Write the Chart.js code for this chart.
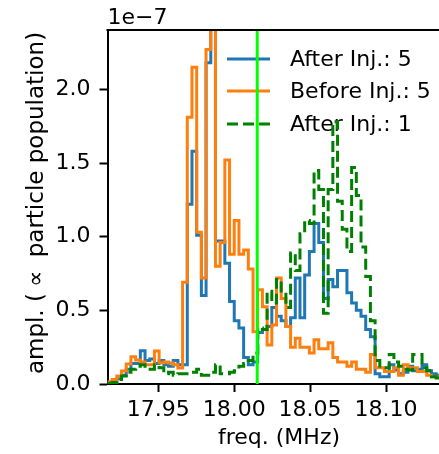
<!DOCTYPE html>
<html>
<head>
<meta charset="utf-8">
<title>ampl vs freq</title>
<script src="https://cdn.jsdelivr.net/npm/chart.js"></script>
<style>
  body { margin: 0; background: #fff; overflow: hidden; }
</style>
</head>
<body>
<canvas id="myChart" width="439" height="454"></canvas>
<script>
// frequency bins (MHz): first left edge and bin width
const binStart = 17.91658;
const binWidth = 0.003092;

// amplitudes per bin, in units of 1e-7
const after5 = [0.01, 0.02, 0.035, 0.06, 0.1, 0.14, 0.14, 0.225, 0.16, 0.17,
  0.14, 0.16, 0.13, 0.12, 0.16, 0.13, 0.13, 1.22, 1.58, 1.01,
  0.60, 2.18, 2.6, 0.97, 0.97, 0.82, 0.56, 0.43, 0.38, 0.18,
  0.13, 0.15, 0.35, 0.37, 0.39, 0.52, 0.46, 0.43, 0.39, 0.45,
  0.72, 0.45, 0.74, 0.90, 1.09, 0.96, 0.58, 0.71, 0.66, 0.77,
  0.77, 0.62, 0.55, 0.50, 0.46, 0.37, 0.32, 0.07, 0.05, 0.05,
  0.13, 0.095, 0.07, 0.08, 0.12, 0.09, 0.10, 0.13, 0.09, 0.07, 0.06];

const before5 = [0.016, 0.03, 0.054, 0.088, 0.136, 0.185, 0.163, 0.15, 0.13, 0.13,
  0.224, 0.145, 0.15, 0.142, 0.13, 0.108, 0.69, 1.81, 2.15, 1.03,
  0.72, 2.27, 2.6, 0.80, 0.96, 1.52, 0.88, 1.11, 0.88, 0.91,
  0.78, 0.355, 0.64, 0.525, 0.265, 0.40, 0.72, 0.58, 0.39, 0.25,
  0.31, 0.25, 0.25, 0.21, 0.30, 0.24, 0.24, 0.28, 0.18, 0.15,
  0.15, 0.12, 0.15, 0.10, 0.10, 0.08, 0.20, 0.11, 0.11, 0.085,
  0.085, 0.11, 0.06, 0.13, 0.11, 0.11, 0.085, 0.085, 0.06, 0.05, 0.05];

const after1 = [0.005, 0.01, 0.03, 0.055, 0.08, 0.1, 0.12, 0.13, 0.1, 0.1,
  0.13, 0.11, 0.07, 0.08, 0.06, 0.07, 0.07, 0.07, 0.08, 0.1,
  0.06, 0.06, 0.08, 0.13, 0.07, 0.07, 0.08, 0.09, 0.12, 0.14,
  0.16, 0.21, 0.38, 0.37, 0.63, 0.55, 0.71, 0.62, 0.52, 0.89,
  0.77, 1.02, 1.11, 1.09, 1.45, 1.32, 0.48, 1.32, 1.78, 1.24,
  1.05, 0.90, 1.47, 1.28, 0.93, 0.73, 0.43, 0.16, 0.11, 0.11,
  0.2, 0.15, 0.12, 0.1, 0.095, 0.2, 0.2, 0.11, 0.09, 0.05, 0.04];

const labels = ['After Inj.: 5', 'Before Inj.: 5', 'After Inj.: 1'];
const colors = ['#1f77b4', '#ff7f0e', 'green'];

// marker line (MHz)
const markerFreq = 18.0152;

// axes
const xMin = 17.9166;
const xMax = 18.1349;
const yMax = 2.403;
const xTicks = [17.95, 18.00, 18.05, 18.10];
const yTicks = [0.0, 0.5, 1.0, 1.5, 2.0];

// turn bin values into step points (left edges + final right edge)
function toSteps(values) {
  let pts = [];
  for (let i = 0; i < values.length; i++) {
    pts.push({x: binStart + i * binWidth, y: values[i]});
  }
  pts.push({x: binStart + values.length * binWidth, y: values[values.length - 1]});
  return pts;
}

Chart.defaults.font.family = 'DejaVu Sans';
Chart.defaults.font.size = 22;
Chart.defaults.color = '#000';

// legend, spines and texts drawn by hand
const extras = {
  id: 'extras',
  beforeDatasetsDraw(chart) {
    const ctx = chart.ctx;
    ctx.save();
    const rows = [59, 91, 124];
    for (let i = 0; i < 3; i++) {
      ctx.strokeStyle = colors[i];
      ctx.lineWidth = 3;
      ctx.setLineDash(i == 2 ? [11, 5] : []);
      ctx.beginPath();
      ctx.moveTo(227, rows[i]);
      ctx.lineTo(270, rows[i]);
      ctx.stroke();
      ctx.fillStyle = '#000';
      ctx.font = '22px "DejaVu Sans"';
      ctx.textBaseline = 'middle';
      ctx.fillText(labels[i], 290, rows[i] + 1);
    }
    ctx.restore();
  },
  afterDraw(chart) {
    const ctx = chart.ctx;
    const a = chart.chartArea;
    ctx.save();
    // top spine
    ctx.strokeStyle = '#000';
    ctx.lineWidth = 2;
    ctx.beginPath();
    ctx.moveTo(a.left - 1, a.top);
    ctx.lineTo(a.right, a.top);
    ctx.stroke();

    ctx.fillStyle = '#000';
    ctx.font = '22px "DejaVu Sans"';
    // offset text
    ctx.textAlign = 'left';
    ctx.textBaseline = 'alphabetic';
    ctx.fillText('1e\u22127', a.left, 24);
    // x title
    ctx.textAlign = 'center';
    ctx.textBaseline = 'middle';
    ctx.fillText('freq. (MHz)', 279, 438);

    // y title, the math symbol gets a bit of room like mathtext does
    ctx.font = '23px "DejaVu Sans"';
    ctx.translate(37, 203);
    ctx.rotate(-Math.PI / 2);
    ctx.textAlign = 'left';
    const parts = ['ampl. (', '\u221d', ' particle population)'];
    const gap = 6;
    let total = gap * 2;
    parts.forEach(p => { total += ctx.measureText(p).width; });
    let x = -total / 2;
    parts.forEach((p, i) => {
      ctx.fillText(p, x, 0);
      x += ctx.measureText(p).width + (i < 2 ? gap : 0);
    });
    ctx.restore();
  }
};

const myChart = document.getElementById('myChart');

let lineChart = new Chart(myChart, {
  type: 'line',
  data: {
    datasets: [
      {label: labels[0], data: toSteps(after5), borderColor: colors[0], order: 4},
      {label: labels[1], data: toSteps(before5), borderColor: colors[1], order: 3},
      {label: labels[2], data: toSteps(after1), borderColor: colors[2], borderDash: [11, 5], order: 2},
      {label: 'marker', data: [{x: markerFreq, y: 0}, {x: markerFreq, y: yMax}], borderColor: '#00ff00', order: 1, stepped: false}
    ]
  },
  options: {
    responsive: false,
    animation: false,
    devicePixelRatio: 1,
    layout: {padding: {left: 0, right: 0, top: 30, bottom: 0}},
    elements: {
      line: {borderWidth: 3, tension: 0, fill: false},
      point: {radius: 0}
    },
    datasets: {
      line: {stepped: true, clip: 0}
    },
    plugins: {
      legend: {display: false},
      tooltip: {enabled: false}
    },
    scales: {
      x: {
        type: 'linear',
        min: xMin,
        max: xMax,
        afterBuildTicks: scale => { scale.ticks = xTicks.map(v => ({value: v})); },
        afterFit: scale => { scale.height = 70; },
        ticks: {
          padding: 5,
          maxRotation: 0,
          callback: v => v.toFixed(2)
        },
        grid: {drawOnChartArea: false, tickLength: 8, tickWidth: 2, tickColor: '#000'},
        border: {display: true, color: '#000', width: 2}
      },
      y: {
        min: 0,
        max: yMax,
        afterBuildTicks: scale => { scale.ticks = yTicks.map(v => ({value: v})); },
        afterFit: scale => { scale.width = 107.5; },
        ticks: {
          padding: 9,
          callback: v => v.toFixed(1)
        },
        grid: {drawOnChartArea: false, tickLength: 8, tickWidth: 2, tickColor: '#000'},
        border: {display: true, color: '#000', width: 2}
      }
    }
  },
  plugins: [extras]
});

console.log(lineChart.chartArea);
</script>
</body>
</html>
